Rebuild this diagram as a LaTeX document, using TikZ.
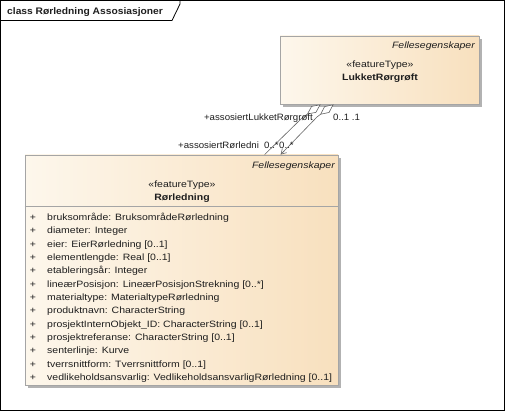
\documentclass[tikz,border=0pt]{standalone}
\usepackage{fontspec}
\setmainfont{Liberation Sans}
\newfontfamily\wfont[FakeStretch=1.14]{Liberation Sans}
\newfontfamily\lfont[FakeStretch=1.05]{Liberation Sans}
\newfontfamily\tfont[FakeStretch=1.08]{Liberation Sans}
\usetikzlibrary{arrows.meta,shadows,calc}
\definecolor{boxL}{RGB}{253,247,236}
\definecolor{boxR}{RGB}{248,224,190}
\definecolor{boxBorder}{RGB}{165,165,165}
\definecolor{shadowC}{RGB}{178,178,178}
\definecolor{lineC}{RGB}{100,100,100}
\definecolor{txtC}{RGB}{30,30,30}
\begin{document}
\begin{tikzpicture}[x=1pt,y=-1pt,
  classbox/.style={draw=boxBorder, line width=0.8pt, left color=boxL, right color=boxR, inner sep=0pt,
     drop shadow={shadow xshift=3pt, shadow yshift=-3pt, fill=shadowC, opacity=1}},
  txt/.style={font=\wfont\fontsize{9.2}{10}\selectfont, inner sep=0pt, text=txtC},
  attr/.style={txt, anchor=base west},
  plus/.style={txt, anchor=base},
  itl/.style={txt, font=\wfont\fontsize{9.2}{10}\selectfont\itshape, anchor=base east},
  ster/.style={txt, font=\wfont\fontsize{9.2}{10}\selectfont, anchor=base},
  bname/.style={txt, font=\wfont\fontsize{9.2}{10}\selectfont\bfseries, anchor=base},
  conn/.style={draw=lineC, line width=0.6pt},
  lbl/.style={txt, font=\lfont\fontsize{9.2}{10}\selectfont}
]
\useasboundingbox (0,0) rectangle (505,411);
% frame
\draw[line width=1pt] (0.5,0.5) rectangle (504,410);
\draw[line width=0.8pt] (0.5,20.5) -- (172,20.5) -- (180,4) -- (180,0.5);
\node[txt, font=\tfont\fontsize{9.5}{11}\selectfont\bfseries, anchor=base west] (title) at (7,14.5) {class Rørledning Assosiasjoner};

% upper class
\node[classbox, minimum width=199pt, minimum height=68pt] (upbox) at (379.5,70) {};
\node[itl] (up1) at (475,48.5) {Fellesegenskaper};
\node[ster] (up2) at (380,67.5) {«featureType»};
\node[bname] (up3) at (380,80.5) {LukketRørgrøft};

% lower class
\node[classbox, minimum width=313pt, minimum height=230pt] (lowbox) at (181.5,270) {};
\draw[draw=boxBorder, line width=0.8pt] ($(lowbox.north west)+(0,52)$) coordinate (dl) -- ($(lowbox.north east)+(0,52)$) coordinate (dr);
\node[itl] (lo1) at (335,168.5) {Fellesegenskaper};
\node[ster] (lo2) at (182,187.5) {«featureType»};
\node[bname] (lo3) at (182,200.5) {Rørledning};

\foreach \i/\t in {0/{bruksområde: BruksområdeRørledning},
  1/{diameter: Integer},
  2/{eier: EierRørledning [0..1]},
  3/{elementlengde: Real [0..1]},
  4/{etableringsår: Integer},
  5/{lineærPosisjon: LineærPosisjonStrekning [0..*]},
  6/{materialtype: MaterialtypeRørledning},
  7/{produktnavn: CharacterString},
  8/{prosjektInternObjekt\_ID: CharacterString [0..1]},
  9/{prosjektreferanse: CharacterString [0..1]},
  10/{senterlinje: Kurve},
  11/{tverrsnittform: Tverrsnittform [0..1]},
  12/{vedlikeholdsansvarlig: VedlikeholdsansvarligRørledning [0..1]}}{
  \node[plus] (p\i) at (33,220.5+13.33*\i) {+};
  \node[attr] (a\i) at (47,220.5+13.33*\i) {\t};
}

% connectors
\coordinate (s1) at ($(upbox.south west)+(41,0)$);
\coordinate (s2) at ($(upbox.south west)+(54,0)$);
\coordinate (b1) at (302,118);
\coordinate (b2) at (317,117);
\coordinate (e1) at ($(lowbox.north west)+(240,0)$);
\coordinate (e2) at ($(lowbox.north west)+(256,0)$);
\draw[conn, {Diamond[open, length=17pt, width=8pt, fill=white]}-] (s1) -- (b1) -- (e1);
\draw[conn, {Diamond[open, length=17pt, width=8pt, fill=white]}-{Straight Barb[length=5pt, width=6pt]}] (s2) -- (b2) -- (e2);

% labels
\node[lbl, anchor=base east] (r1) at (313,120.5) {+assosiertLukketRørgrøft};
\node[lbl, anchor=base west] (m1) at (333,120.5) {0..1 .1};
\node[lbl, anchor=base west] (r2) at (178,148.5) {+assosiertRørledni};
\node[lbl, anchor=base west] (m3) at (279,148.5) {0..*};
\node[lbl, anchor=base west] (m2) at (264,148.5) {0..*};
\end{tikzpicture}
\end{document}
